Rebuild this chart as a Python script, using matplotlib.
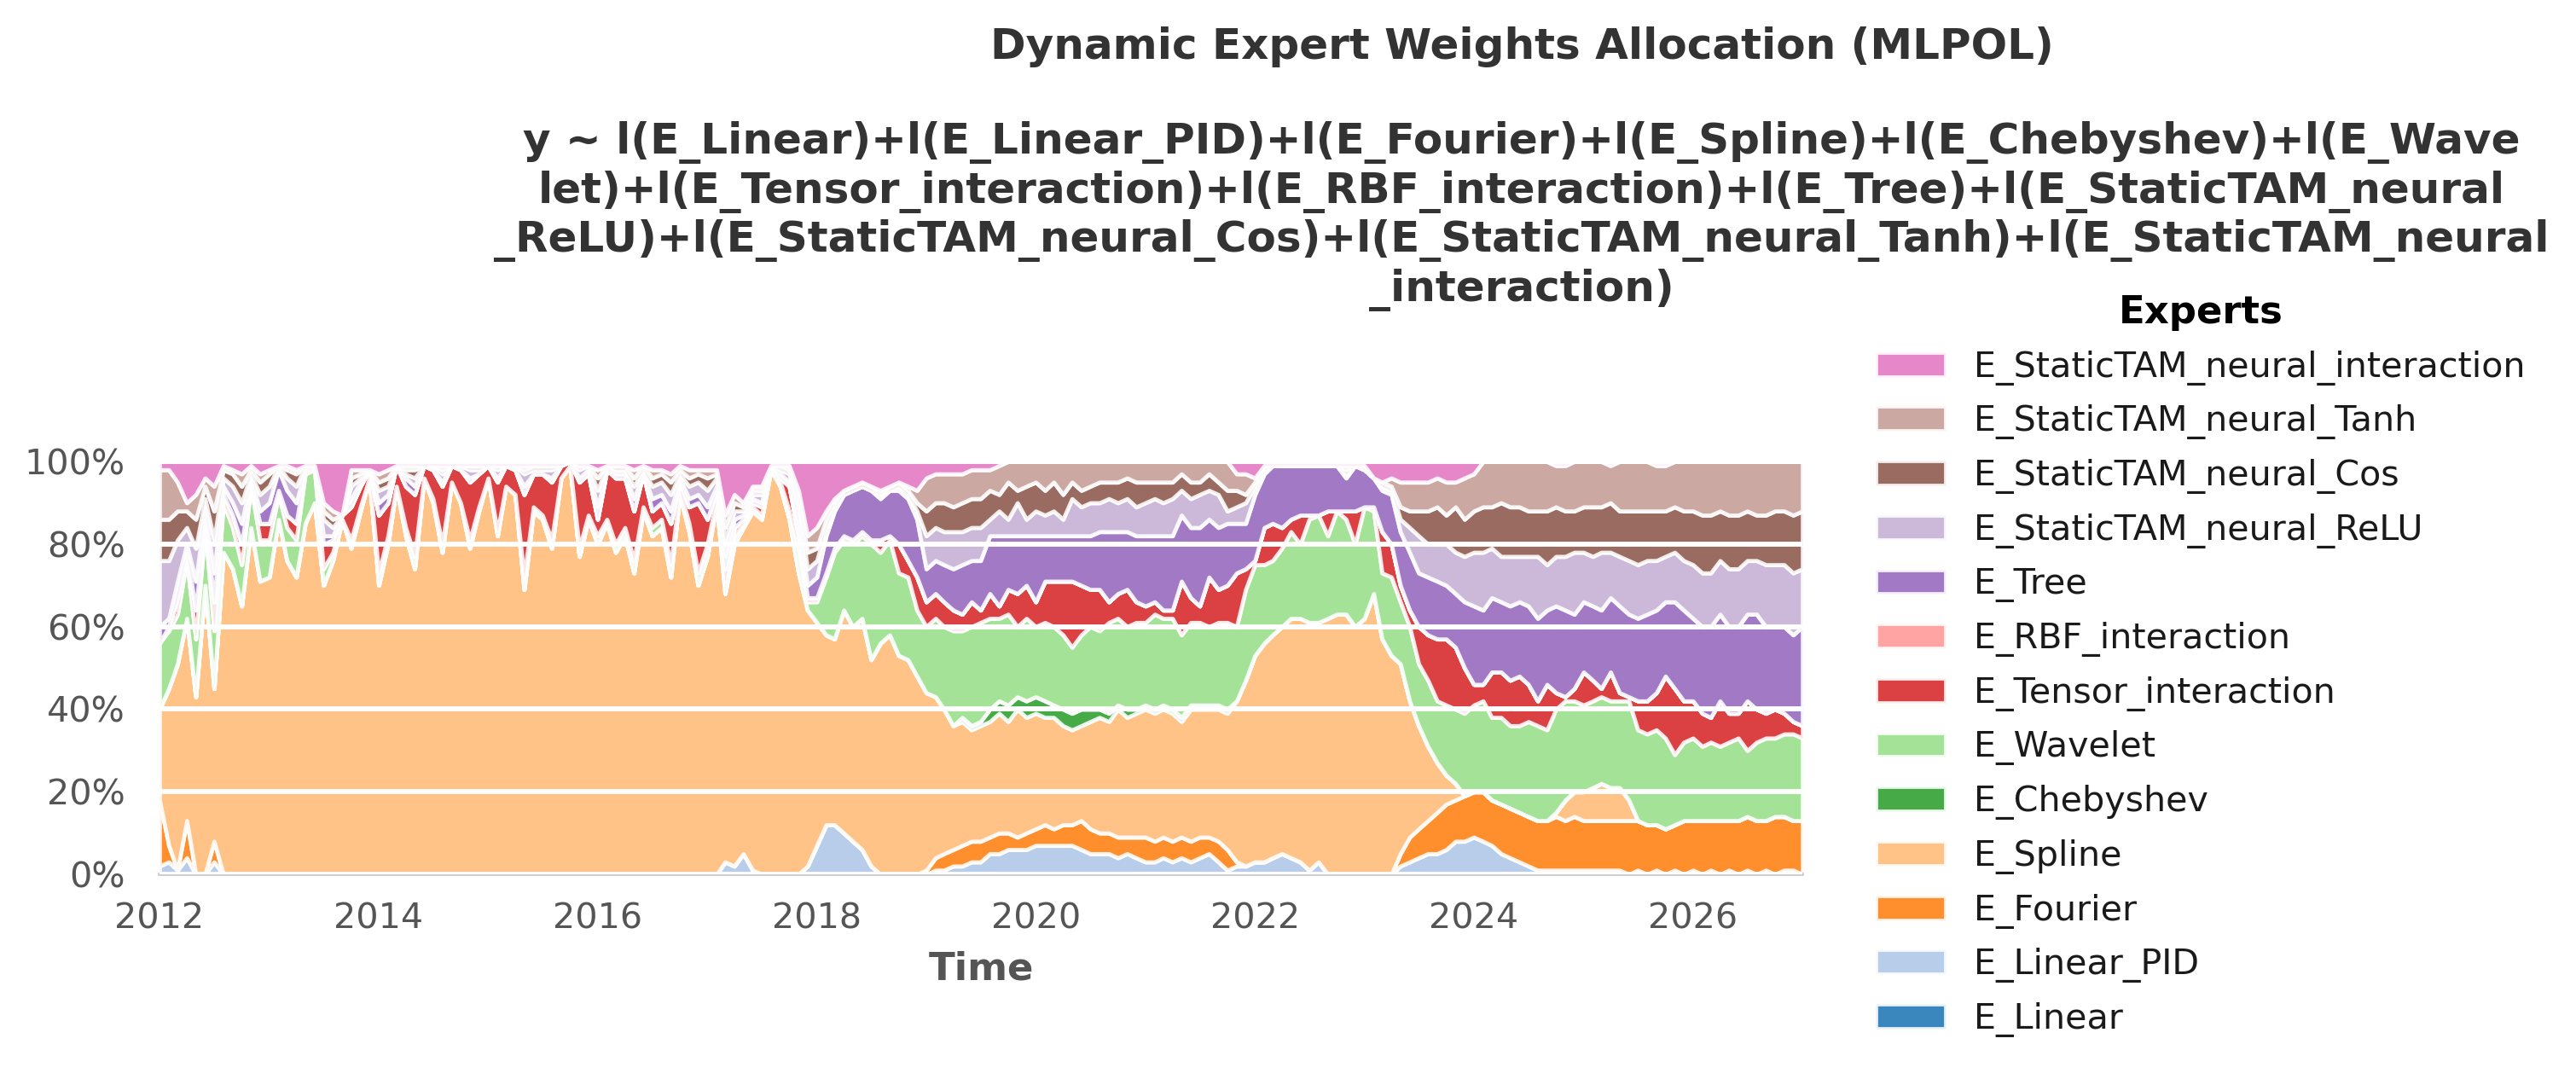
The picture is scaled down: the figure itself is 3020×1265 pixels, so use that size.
# -*- coding: utf-8 -*-
"""
Dynamic expert weights allocation (MLPOL) - stacked share of each expert over time
"""
import textwrap
import numpy as np
import pandas as pd
import matplotlib
matplotlib.use("Agg")
import matplotlib.pyplot as plt
import matplotlib.dates as mdates
from matplotlib.ticker import PercentFormatter

EXPERTS = ["E_Linear", "E_Linear_PID", "E_Fourier", "E_Spline", "E_Chebyshev",
           "E_Wavelet", "E_Tensor_interaction", "E_RBF_interaction", "E_Tree",
           "E_StaticTAM_neural_ReLU", "E_StaticTAM_neural_Cos",
           "E_StaticTAM_neural_Tanh", "E_StaticTAM_neural_interaction"]

# monthly samples, Jan 2012 .. Jan 2027
MONTHS = pd.date_range("2012-01-01", "2027-01-01", freq="MS")

# weights in percent, one row per year (12 months), last value = Jan 2027
E_LINEAR = [
    0, 0, 0, 0, 0, 0, 0, 0, 0, 0, 0, 0,
    0, 0, 0, 0, 0, 0, 0, 0, 0, 0, 0, 0,
    0, 0, 0, 0, 0, 0, 0, 0, 0, 0, 0, 0,
    0, 0, 0, 0, 0, 0, 0, 0, 0, 0, 0, 0,
    0, 0, 0, 0, 0, 0, 0, 0, 0, 0, 0, 0,
    0, 0, 0, 0, 0, 0, 0, 0, 0, 0, 0, 0,
    0, 0, 0, 0, 0, 0, 0, 0, 0, 0, 0, 0,
    0, 0, 0, 0, 0, 0, 0, 0, 0, 0, 0, 0,
    0, 0, 0, 0, 0, 0, 0, 0, 0, 0, 0, 0,
    0, 0, 0, 0, 0, 0, 0, 0, 0, 0, 0, 0,
    0, 0, 0, 0, 0, 0, 0, 0, 0, 0, 0, 0,
    0, 0, 0, 0, 0, 0, 0, 0, 0, 0, 0, 0,
    0, 0, 0, 0, 0, 0, 0, 0, 0, 0, 0, 0,
    0, 0, 0, 0, 0, 0, 0, 0, 0, 0, 0, 0,
    0, 0, 0, 0, 0, 0, 0, 0, 0, 0, 0, 0,
    0]
E_LINEAR_PID = [
    2, 3, 1, 4, 0, 0, 3, 0, 0, 0, 0, 0,
    0, 0, 0, 0, 0, 0, 0, 0, 0, 0, 0, 0,
    0, 0, 0, 0, 0, 0, 0, 0, 0, 0, 0, 0,
    0, 0, 0, 0, 0, 0, 0, 0, 0, 0, 0, 0,
    0, 0, 0, 0, 0, 0, 0, 0, 0, 0, 0, 0,
    0, 0, 3, 2, 5, 1, 0, 0, 0, 0, 0, 2,
    7, 12, 12, 10, 8, 6, 2, 0, 0, 0, 0, 0,
    0, 1, 1, 2, 2, 3, 3, 5, 5, 6, 6, 6,
    7, 7, 7, 7, 7, 6, 5, 5, 5, 4, 5, 4,
    3, 3, 4, 3, 4, 3, 4, 5, 3, 1, 2, 2,
    3, 3, 4, 5, 4, 3, 1, 3, 0, 0, 0, 0,
    0, 0, 0, 0, 2, 3, 4, 5, 5, 6, 8, 8,
    9, 8, 7, 5, 4, 3, 2, 1, 1, 1, 1, 1,
    1, 1, 1, 1, 1, 0, 1, 0, 1, 0, 1, 0,
    1, 0, 1, 0, 1, 0, 1, 0, 1, 0, 1, 1,
    0]
E_FOURIER = [
    16, 4, 0, 9, 0, 0, 5, 0, 0, 0, 0, 0,
    0, 0, 0, 0, 0, 0, 0, 0, 0, 0, 0, 0,
    0, 0, 0, 0, 0, 0, 0, 0, 0, 0, 0, 0,
    0, 0, 0, 0, 0, 0, 0, 0, 0, 0, 0, 0,
    0, 0, 0, 0, 0, 0, 0, 0, 0, 0, 0, 0,
    0, 0, 0, 0, 0, 0, 0, 0, 0, 0, 0, 0,
    0, 0, 0, 0, 0, 0, 0, 0, 0, 0, 0, 0,
    1, 3, 4, 4, 5, 5, 5, 4, 5, 4, 3, 4,
    4, 5, 4, 5, 5, 7, 6, 5, 5, 5, 4, 5,
    6, 5, 5, 5, 5, 5, 5, 4, 5, 5, 1, 0,
    0, 0, 0, 0, 0, 0, 0, 0, 0, 0, 0, 0,
    0, 0, 0, 0, 3, 6, 7, 8, 10, 11, 10, 11,
    11, 12, 11, 12, 12, 12, 12, 12, 12, 13, 12, 13,
    12, 12, 12, 12, 12, 13, 12, 12, 11, 11, 11, 13,
    12, 13, 12, 13, 12, 13, 13, 13, 12, 14, 13, 12,
    13]
E_SPLINE = [
    22, 38, 50, 49, 43, 70, 37, 78, 74, 65, 84, 71,
    72, 86, 76, 72, 85, 90, 70, 76, 86, 79, 88, 96,
    70, 80, 94, 82, 74, 96, 90, 78, 95, 90, 79, 88,
    96, 82, 94, 92, 69, 88, 86, 79, 96, 99, 77, 86,
    80, 85, 78, 82, 73, 88, 82, 84, 72, 92, 83, 70,
    77, 90, 65, 78, 79, 87, 86, 98, 94, 86, 73, 62,
    54, 46, 45, 54, 52, 56, 50, 56, 58, 53, 52, 48,
    43, 39, 35, 30, 30, 27, 28, 28, 29, 27, 31, 28,
    28, 26, 27, 24, 23, 23, 26, 28, 27, 31, 29, 30,
    31, 31, 31, 31, 28, 32, 31, 31, 32, 33, 39, 45,
    50, 53, 54, 55, 58, 59, 60, 58, 62, 63, 63, 60,
    62, 68, 57, 53, 46, 33, 25, 18, 12, 7, 4, 0,
    0, 0, 0, 0, 0, 0, 0, 0, 0, 1, 5, 6,
    7, 8, 9, 8, 8, 5, 0, 0, 0, 0, 0, 0,
    0, 0, 0, 0, 0, 0, 0, 0, 0, 0, 0, 0,
    0]
E_CHEBYSHEV = [
    0, 0, 0, 0, 0, 0, 0, 0, 0, 0, 0, 0,
    0, 0, 0, 0, 0, 0, 0, 0, 0, 0, 0, 0,
    0, 0, 0, 0, 0, 0, 0, 0, 0, 0, 0, 0,
    0, 0, 0, 0, 0, 0, 0, 0, 0, 0, 0, 0,
    0, 0, 0, 0, 0, 0, 0, 0, 0, 0, 0, 0,
    0, 0, 0, 0, 0, 0, 0, 0, 0, 0, 0, 0,
    0, 0, 0, 0, 0, 0, 0, 0, 0, 0, 0, 0,
    0, 0, 0, 0, 1, 1, 1, 3, 3, 4, 3, 4,
    4, 4, 3, 4, 4, 4, 3, 2, 2, 1, 2, 1,
    1, 1, 1, 1, 1, 1, 1, 1, 1, 1, 0, 0,
    0, 0, 0, 0, 0, 0, 0, 0, 0, 0, 0, 0,
    0, 0, 0, 0, 0, 0, 0, 0, 0, 0, 0, 0,
    0, 0, 0, 0, 0, 0, 0, 0, 0, 0, 0, 0,
    0, 0, 0, 0, 0, 0, 0, 0, 0, 0, 0, 0,
    0, 0, 0, 0, 0, 0, 0, 0, 0, 0, 0, 0,
    0]
E_WAVELET = [
    16, 14, 12, 14, 14, 14, 14, 12, 10, 10, 10, 10,
    9, 6, 8, 9, 12, 8, 4, 2, 0, 2, 1, 0,
    3, 2, 0, 2, 3, 0, 1, 2, 0, 0, 2, 1,
    0, 1, 0, 0, 3, 1, 1, 2, 0, 0, 2, 1,
    2, 1, 2, 2, 3, 1, 2, 2, 3, 1, 2, 3,
    3, 1, 3, 2, 1, 1, 1, 0, 1, 2, 6, 2,
    5, 14, 21, 17, 20, 20, 28, 22, 23, 20, 20, 16,
    16, 19, 20, 23, 21, 24, 24, 22, 20, 22, 17, 20,
    17, 19, 19, 18, 16, 18, 20, 19, 22, 21, 20, 21,
    20, 23, 21, 22, 20, 20, 20, 19, 20, 21, 18, 22,
    22, 19, 18, 19, 21, 18, 25, 26, 20, 25, 23, 20,
    27, 20, 16, 19, 15, 18, 15, 16, 15, 17, 18, 20,
    21, 22, 20, 21, 20, 21, 23, 23, 22, 25, 24, 22,
    21, 21, 21, 21, 21, 24, 22, 22, 23, 22, 17, 19,
    20, 18, 19, 18, 19, 20, 16, 19, 20, 19, 20, 21,
    20]
E_TENSOR = [
    0, 1, 4, 2, 7, 2, 7, 2, 3, 5, 1, 4,
    4, 1, 3, 4, 1, 0, 6, 3, 1, 8, 5, 2,
    14, 8, 5, 10, 15, 3, 7, 14, 4, 8, 14, 8,
    3, 12, 5, 6, 20, 8, 10, 14, 3, 1, 16, 10,
    4, 12, 16, 12, 12, 8, 4, 4, 10, 2, 4, 17,
    6, 2, 3, 2, 1, 1, 2, 1, 1, 6, 3, 1,
    1, 1, 1, 1, 1, 1, 1, 3, 1, 7, 4, 8,
    6, 6, 6, 5, 4, 6, 3, 6, 3, 6, 8, 8,
    6, 10, 11, 13, 16, 12, 9, 10, 5, 6, 9, 5,
    4, 3, 2, 2, 13, 6, 4, 12, 8, 9, 13, 5,
    1, 9, 9, 5, 3, 7, 1, 0, 6, 0, 2, 8,
    0, 1, 10, 8, 4, 4, 9, 11, 15, 16, 15, 11,
    5, 4, 11, 11, 11, 12, 9, 6, 11, 4, 1, 3,
    8, 5, 2, 7, 2, 1, 7, 8, 9, 15, 16, 10,
    9, 8, 6, 11, 7, 6, 12, 8, 6, 7, 5, 3,
    3]
E_RBF = [
    0, 0, 0, 0, 0, 0, 0, 0, 0, 0, 0, 0,
    0, 0, 0, 0, 0, 0, 0, 0, 0, 0, 0, 0,
    0, 0, 0, 0, 0, 0, 0, 0, 0, 0, 0, 0,
    0, 0, 0, 0, 0, 0, 0, 0, 0, 0, 0, 0,
    0, 0, 0, 0, 0, 0, 0, 0, 0, 0, 0, 0,
    0, 0, 0, 0, 0, 0, 0, 0, 0, 0, 0, 0,
    0, 0, 0, 0, 0, 0, 0, 0, 0, 0, 0, 0,
    0, 0, 0, 0, 0, 0, 0, 0, 0, 0, 0, 0,
    0, 0, 0, 0, 0, 0, 0, 0, 0, 0, 0, 0,
    0, 0, 0, 0, 0, 0, 0, 0, 0, 0, 0, 0,
    0, 0, 0, 0, 0, 0, 0, 0, 0, 0, 0, 0,
    0, 0, 0, 0, 0, 0, 0, 0, 0, 0, 0, 0,
    0, 0, 0, 0, 0, 0, 0, 0, 0, 0, 0, 0,
    0, 0, 0, 0, 0, 0, 0, 0, 0, 0, 0, 0,
    0, 0, 0, 0, 0, 0, 0, 0, 0, 0, 0, 0,
    0]
E_TREE = [
    4, 2, 4, 2, 7, 2, 7, 2, 3, 5, 1, 3,
    5, 5, 6, 5, 0, 0, 2, 1, 0, 2, 1, 0,
    3, 2, 0, 2, 2, 0, 0, 1, 0, 0, 1, 0,
    0, 1, 0, 0, 2, 0, 0, 1, 0, 0, 1, 1,
    3, 0, 1, 1, 3, 0, 3, 2, 3, 1, 2, 2,
    3, 1, 3, 2, 1, 1, 1, 0, 1, 1, 3, 3,
    5, 9, 9, 10, 12, 11, 12, 10, 11, 13, 15, 14,
    8, 8, 9, 10, 12, 10, 12, 14, 17, 13, 14, 12,
    16, 11, 11, 11, 11, 12, 13, 14, 17, 15, 14, 16,
    17, 16, 18, 18, 16, 17, 19, 14, 15, 15, 12, 11,
    16, 13, 14, 15, 13, 12, 12, 12, 11, 11, 8, 11,
    9, 7, 10, 12, 13, 14, 13, 14, 14, 13, 13, 16,
    19, 18, 18, 17, 18, 18, 19, 20, 18, 21, 21, 18,
    17, 18, 19, 18, 21, 20, 20, 21, 20, 18, 21, 22,
    20, 21, 22, 21, 21, 21, 21, 23, 21, 20, 21, 21,
    24]
E_RELU = [
    16, 14, 10, 4, 8, 3, 8, 2, 4, 5, 1, 4,
    4, 1, 3, 4, 1, 1, 4, 2, 0, 3, 1, 0,
    3, 2, 0, 1, 2, 0, 1, 2, 0, 1, 2, 1,
    0, 2, 0, 1, 3, 1, 1, 2, 0, 0, 2, 1,
    4, 1, 1, 1, 3, 1, 3, 3, 4, 1, 3, 3,
    4, 2, 4, 2, 1, 1, 2, 0, 1, 2, 4, 4,
    4, 2, 1, 0, 0, 0, 0, 1, 0, 1, 1, 2,
    8, 8, 8, 9, 8, 8, 8, 4, 6, 4, 8, 4,
    6, 5, 6, 4, 9, 7, 8, 7, 8, 7, 8, 7,
    8, 9, 8, 9, 6, 7, 8, 7, 8, 3, 4, 5,
    2, 1, 0, 0, 0, 0, 0, 0, 0, 0, 1, 0,
    0, 0, 1, 1, 3, 6, 9, 8, 9, 10, 10, 11,
    13, 14, 12, 11, 12, 11, 12, 15, 11, 12, 13, 15,
    12, 12, 14, 11, 12, 13, 13, 13, 12, 11, 12, 12,
    13, 13, 13, 13, 14, 14, 13, 13, 15, 15, 15, 15,
    14]
E_COS = [
    10, 10, 7, 4, 7, 3, 7, 2, 3, 4, 1, 3,
    3, 0, 2, 3, 0, 0, 2, 2, 0, 2, 1, 0,
    2, 2, 0, 1, 2, 0, 0, 1, 0, 0, 1, 1,
    0, 1, 0, 0, 1, 1, 1, 1, 0, 0, 1, 0,
    3, 0, 1, 1, 2, 1, 2, 2, 3, 1, 2, 2,
    3, 1, 3, 2, 1, 1, 1, 0, 1, 1, 2, 4,
    3, 2, 1, 1, 1, 1, 1, 0, 1, 1, 1, 2,
    6, 6, 7, 6, 7, 7, 7, 7, 4, 9, 3, 8,
    7, 6, 7, 6, 4, 4, 4, 5, 4, 5, 5, 6,
    5, 4, 5, 4, 4, 4, 3, 4, 3, 5, 4, 2,
    1, 1, 0, 0, 0, 0, 0, 0, 0, 0, 1, 0,
    0, 0, 1, 1, 3, 4, 6, 8, 9, 7, 11, 9,
    10, 11, 10, 13, 12, 12, 11, 11, 13, 12, 11, 10,
    11, 12, 11, 12, 11, 12, 13, 12, 12, 11, 11, 12,
    13, 14, 14, 12, 13, 13, 12, 11, 12, 13, 13, 14,
    14]
E_TANH = [
    12, 12, 7, 2, 6, 2, 6, 1, 1, 3, 1, 2,
    1, 0, 1, 1, 0, 0, 2, 2, 0, 2, 1, 0,
    2, 2, 0, 1, 1, 0, 0, 1, 0, 0, 0, 0,
    0, 0, 0, 0, 1, 0, 0, 0, 0, 0, 0, 0,
    2, 0, 0, 0, 2, 0, 2, 1, 2, 1, 2, 1,
    2, 1, 3, 2, 1, 1, 1, 0, 0, 1, 2, 4,
    5, 2, 1, 0, 0, 0, 0, 1, 0, 0, 1, 3,
    8, 7, 7, 8, 7, 7, 7, 5, 7, 5, 7, 6,
    5, 7, 5, 8, 5, 7, 6, 5, 5, 5, 4, 5,
    5, 5, 5, 5, 3, 5, 5, 3, 5, 7, 4, 5,
    1, 0, 0, 0, 0, 0, 0, 0, 0, 0, 1, 0,
    1, 0, 0, 2, 6, 7, 7, 7, 7, 8, 6, 10,
    9, 11, 11, 10, 11, 11, 12, 12, 12, 10, 11, 12,
    11, 11, 11, 9, 12, 12, 12, 12, 11, 11, 11, 12,
    12, 13, 13, 12, 13, 13, 12, 13, 13, 12, 12, 13,
    12]
E_INTERACTION = [
    2, 2, 5, 10, 8, 4, 6, 1, 2, 3, 1, 3,
    2, 1, 1, 2, 1, 1, 10, 12, 13, 2, 2, 2,
    3, 2, 1, 1, 1, 1, 1, 1, 1, 1, 1, 1,
    1, 1, 1, 1, 1, 1, 1, 1, 1, 0, 1, 1,
    2, 1, 1, 1, 2, 1, 2, 2, 3, 1, 2, 2,
    2, 2, 13, 8, 10, 6, 6, 1, 1, 1, 7, 18,
    16, 12, 9, 7, 6, 5, 6, 7, 6, 5, 6, 7,
    4, 3, 3, 3, 3, 2, 2, 2, 1, 0, 0, 0,
    0, 0, 0, 0, 0, 0, 0, 0, 0, 0, 0, 0,
    0, 0, 0, 0, 0, 0, 0, 0, 0, 0, 3, 3,
    4, 1, 1, 1, 1, 1, 1, 1, 1, 1, 1, 1,
    1, 4, 5, 4, 5, 5, 5, 5, 4, 5, 5, 4,
    3, 0, 0, 0, 0, 0, 0, 0, 0, 1, 1, 0,
    0, 0, 0, 1, 0, 0, 0, 0, 1, 1, 0, 0,
    0, 0, 0, 0, 0, 0, 0, 0, 0, 0, 0, 0,
    0]

SERIES = [E_LINEAR, E_LINEAR_PID, E_FOURIER, E_SPLINE, E_CHEBYSHEV, E_WAVELET,
          E_TENSOR, E_RBF, E_TREE, E_RELU, E_COS, E_TANH, E_INTERACTION]

TITLE = "Dynamic Expert Weights Allocation (MLPOL)"
FORMULA = "y ~ " + "+".join("l(%s)" % e for e in EXPERTS)

# -- weights as shares of the total at each date
w = np.array(SERIES, dtype=float)
w = w / w.sum(axis=0)

colors = list(plt.cm.tab20.colors[:len(EXPERTS)])

DPI = 300
fig = plt.figure(figsize=(3020 / DPI, 1265 / DPI), dpi=DPI)
ax = fig.add_axes([0.0619, 0.1897, 0.6378, 0.3826])

ax.stackplot(MONTHS, *w, labels=EXPERTS, colors=colors, alpha=0.88,
             edgecolor="white", linewidth=1.15)

ax.set_xlim(MONTHS[0], MONTHS[-1])
ax.set_ylim(0, 1)
ax.set_yticks([0, 0.2, 0.4, 0.6, 0.8, 1.0])
ax.yaxis.set_major_formatter(PercentFormatter(1.0, decimals=0))
ax.xaxis.set_major_locator(mdates.YearLocator(2))
ax.xaxis.set_major_formatter(mdates.DateFormatter("%Y"))

# white horizontal grid drawn over the areas
ax.set_axisbelow(False)
ax.yaxis.grid(True, color="white", linewidth=1.4)
ax.xaxis.grid(False)

for side in ["top", "right", "left"]:
    ax.spines[side].set_visible(False)
ax.spines["bottom"].set_color("#cccccc")
ax.spines["bottom"].set_linewidth(0.9)

ax.tick_params(axis="y", length=0, pad=9.6, labelsize=9.9, labelcolor="#555555")
ax.tick_params(axis="x", length=0, pad=7.8, labelsize=9.9, labelcolor="#555555")
ax.set_xlabel("Time", fontsize=10.8, fontweight="bold", color="#555555", labelpad=4)

title_txt = TITLE + "\n\n" + textwrap.fill(FORMULA, 80)
fig.text(0.5907, 0.9755, title_txt, ha="center", va="top", fontsize=12,
         fontweight="bold", color="#333333")

handles, labels = ax.get_legend_handles_labels()
leg = fig.legend(handles[::-1], labels[::-1], loc="upper left",
                 bbox_to_anchor=(0.7281, 0.7273), bbox_transform=fig.transFigure,
                 frameon=False, borderpad=0, borderaxespad=0, fontsize=9.9,
                 title="Experts", title_fontproperties={"weight": "bold", "size": 10.8},
                 handlelength=2.0, handletextpad=0.8, labelspacing=0.55)
for t in leg.get_texts():
    t.set_color("#1a1a1a")

fig.savefig("out.png", dpi=DPI)
